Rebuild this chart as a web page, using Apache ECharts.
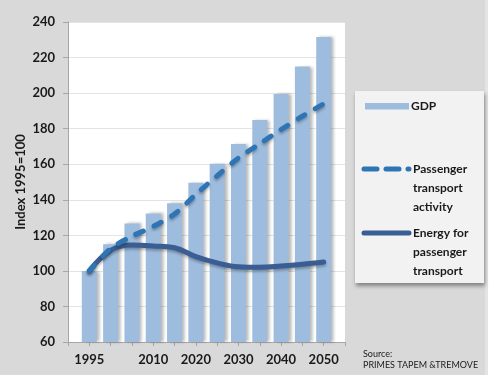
<!DOCTYPE html>
<html>
<head>
<meta charset="utf-8">
<script src="https://cdn.jsdelivr.net/npm/echarts@6/dist/echarts.min.js"></script>
<style>html,body{margin:0;padding:0;background:#fff}#c{width:496px;height:380px}</style>
</head>
<body>
<div id="c"></div>
<script>
// ---- data ----
var years = [1995, 2000, 2005, 2010, 2015, 2020, 2025, 2030, 2035, 2040, 2045, 2050];
var gdp = [100, 115, 126.7, 132.3, 138, 149.6, 160.3, 171.4, 184.9, 199.5, 214.9, 231.5];
var passengerActivity = [100, 112.5, 119.5, 125, 132, 143, 153.5, 163.5, 171.5, 179.5, 187, 194];
var energyPassenger = [100, 111.5, 114.5, 114, 113, 108, 104.5, 102.3, 102, 102.7, 103.7, 105];
var xTickLabels = [1995, 2010, 2020, 2030, 2040, 2050];
var seriesNames = ['GDP', 'Passenger transport activity', 'Energy for passenger transport'];
var legendTexts = ['GDP', 'Passenger\ntransport\nactivity', 'Energy for\npassenger\ntransport'];
var yAxisTitle = 'Index 1995=100';
var sourceLines = ['Source:', 'PRIMES TAPEM &TREMOVE'];

function pairs(vals) { return years.map(function (y, i) { return [y, vals[i]]; }); }

var FONT = 'Lato, "Open Sans", sans-serif';
var barColor = '#9ebdde';
var dashColor = '#2e75b6';
var solidColor = '#3a5d94';

var chart = echarts.init(document.getElementById('c'), null, { renderer: 'canvas' });
chart.setOption({
  animation: false,
  backgroundColor: '#d9d9d9',
  textStyle: { fontFamily: FONT },
  grid: { left: 68, right: 151, top: 22, bottom: 38, show: true, backgroundColor: '#ffffff', borderWidth: 0, containLabel: false, outerBoundsMode: 'none' },
  xAxis: {
    type: 'value', min: 1990, max: 2055, interval: 5,
    axisLine: { show: true, lineStyle: { color: '#a6a6a6', width: 1 } },
    axisTick: { show: true, length: 4, lineStyle: { color: '#a6a6a6' } },
    splitLine: { show: false },
    axisLabel: {
      margin: 11, color: '#1a1a1a', fontSize: 13, fontWeight: 'bold', fontFamily: FONT,
      showMinLabel: true, showMaxLabel: true,
      formatter: function (v) { return xTickLabels.indexOf(v) >= 0 ? String(v) : ''; }
    }
  },
  yAxis: {
    type: 'value', min: 60, max: 240, interval: 20,
    name: yAxisTitle, nameLocation: 'middle', nameRotate: 90, nameGap: 41, nameMoveOverlap: false,
    nameTextStyle: { color: '#1a1a1a', fontSize: 13, fontFamily: FONT, fontWeight: 'bold' },
    axisLine: { show: true, lineStyle: { color: '#a6a6a6', width: 1 } },
    axisTick: { show: true, length: 5, lineStyle: { color: '#a6a6a6' } },
    splitLine: { show: true, lineStyle: { color: '#e3e3e3', width: 1 } },
    axisLabel: { margin: 13, color: '#1a1a1a', fontSize: 13, fontWeight: 'bold', fontFamily: FONT }
  },
  series: [
    {
      name: seriesNames[0], type: 'bar', barWidth: 15, data: pairs(gdp), z: 2,
      itemStyle: { color: barColor, shadowColor: 'rgba(0,0,0,0.28)', shadowBlur: 3, shadowOffsetX: 3, shadowOffsetY: 0 }
    },
    {
      name: seriesNames[1], type: 'line', data: pairs(passengerActivity), smooth: 0.3, symbol: 'none', z: 4,
      lineStyle: { color: dashColor, width: 5, type: [8, 12], cap: 'round', join: 'round',
        shadowColor: 'rgba(0,0,0,0.3)', shadowBlur: 3, shadowOffsetY: 2 }
    },
    {
      name: seriesNames[2], type: 'line', data: pairs(energyPassenger), smooth: 0.4, symbol: 'none', z: 3,
      lineStyle: { color: solidColor, width: 5, cap: 'round', join: 'round',
        shadowColor: 'rgba(0,0,0,0.3)', shadowBlur: 3, shadowOffsetY: 2 }
    }
  ],
  graphic: [
    { type: 'rect', shape: { x: 488, y: 0, width: 8, height: 380 }, style: { fill: '#ffffff' }, silent: true },
    { type: 'rect', shape: { x: 485, y: 0, width: 3, height: 375 }, style: { fill: '#e4e4e4' }, silent: true },
    { type: 'rect', shape: { x: 0, y: 375, width: 496, height: 5 }, style: { fill: '#ffffff' }, silent: true },
    { type: 'rect', shape: { x: 355, y: 91, width: 129, height: 192 },
      style: { fill: '#f2f2f2', shadowColor: 'rgba(0,0,0,0.4)', shadowBlur: 4, shadowOffsetX: 1, shadowOffsetY: 3 }, silent: true },
    { type: 'rect', shape: { x: 365, y: 103, width: 44, height: 6.5 }, style: { fill: barColor }, silent: true },
    { type: 'line', shape: { x1: 364, y1: 169, x2: 409, y2: 169 },
      style: { stroke: dashColor, lineWidth: 5, lineDash: [13, 9], lineCap: 'round' }, silent: true },
    { type: 'line', shape: { x1: 364, y1: 233, x2: 409, y2: 233 },
      style: { stroke: solidColor, lineWidth: 5, lineCap: 'round' }, silent: true },
    { type: 'text', x: 411, y: 97, style: { text: legendTexts[0], font: 'bold 12px ' + FONT, fill: '#1a1a1a', lineHeight: 18.7, textVerticalAlign: 'top' }, silent: true },
    { type: 'text', x: 413, y: 160, style: { text: legendTexts[1], font: 'bold 12px ' + FONT, fill: '#1a1a1a', lineHeight: 18.7, textVerticalAlign: 'top' }, silent: true },
    { type: 'text', x: 413, y: 224, style: { text: legendTexts[2], font: 'bold 12px ' + FONT, fill: '#1a1a1a', lineHeight: 18.7, textVerticalAlign: 'top' }, silent: true },
    { type: 'text', x: 363, y: 354, style: { text: sourceLines[0], font: '9px ' + FONT, fill: '#1a1a1a', textVerticalAlign: 'middle' }, silent: true },
    { type: 'text', x: 363, y: 365, style: { text: sourceLines[1], font: '9px ' + FONT, fill: '#1a1a1a', textVerticalAlign: 'middle' }, silent: true }
  ]
});
</script>
</body>
</html>
